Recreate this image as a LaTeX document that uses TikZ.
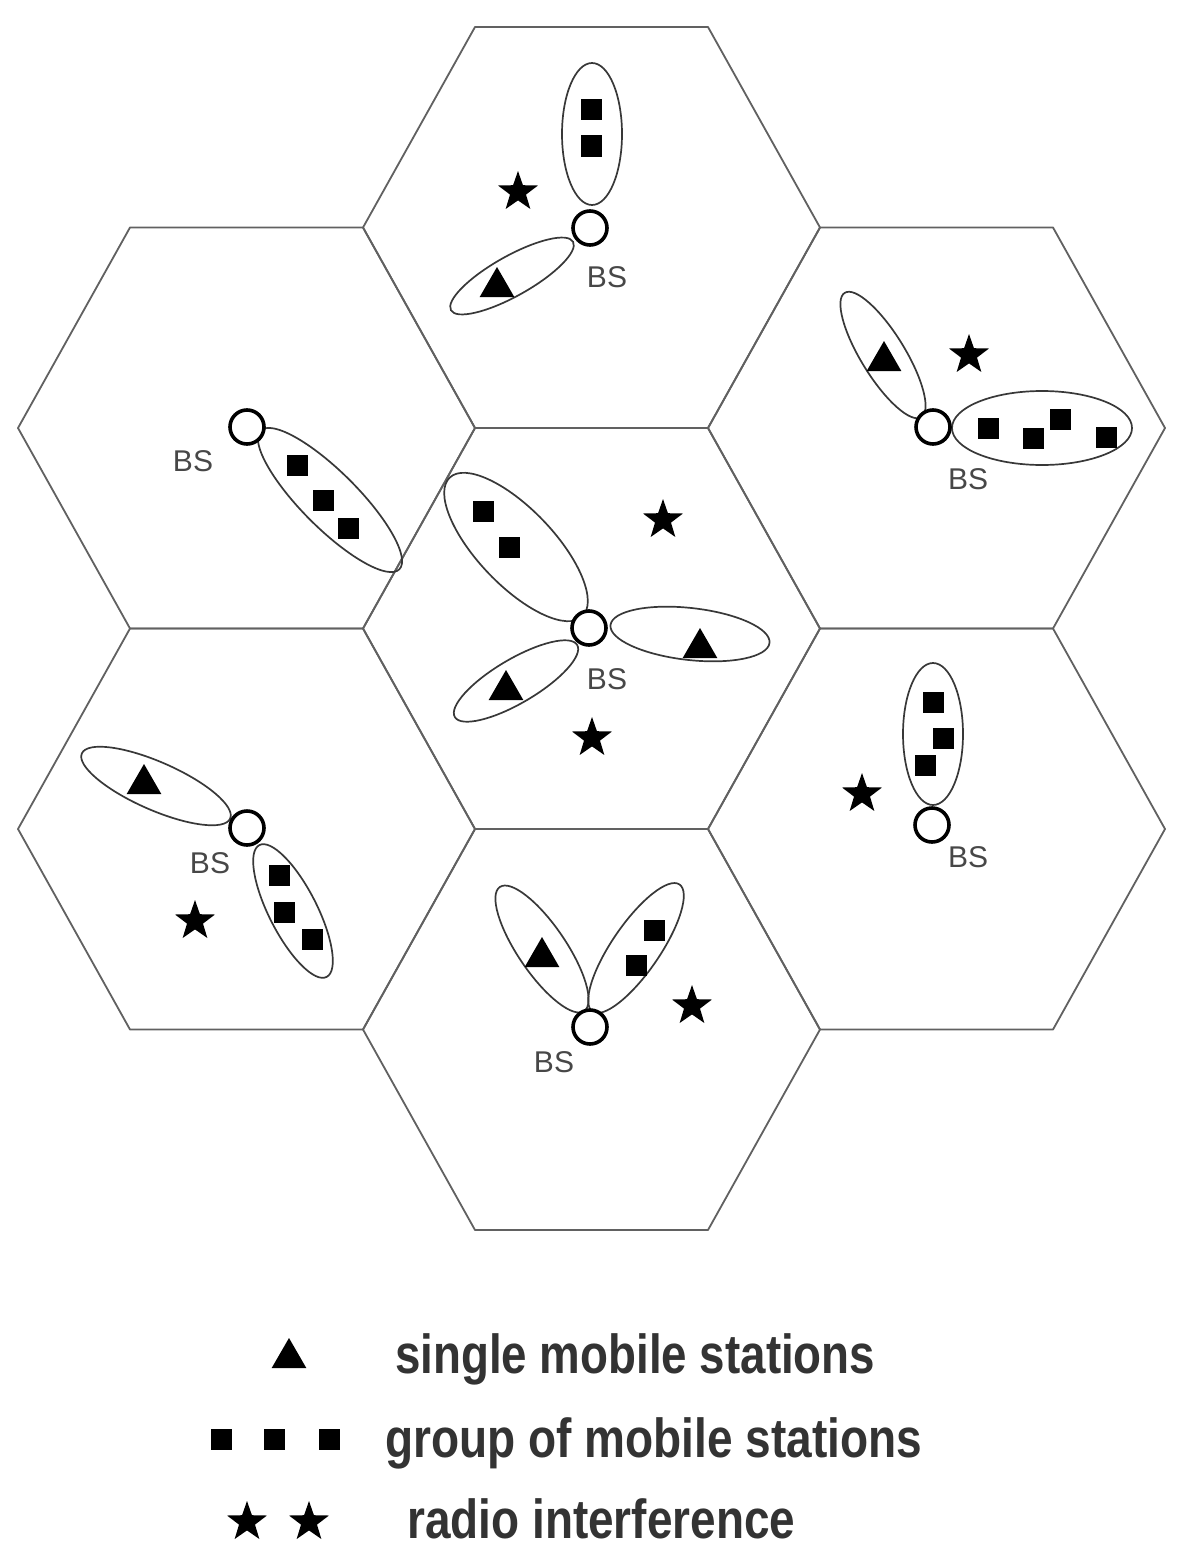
\documentclass[tikz,border=0pt]{standalone}
\usepackage{fontspec}
\setmainfont{Liberation Sans}
\usetikzlibrary{shapes.geometric}
\tikzset{
  hexline/.style={draw=black!62, line width=1.8pt, line join=round},
  lobe/.style={draw=black!78, line width=1.7pt},
  bsnode/.style={circle, draw=black, line width=3.6pt, minimum size=34pt, inner sep=0pt, fill=white},
  sqnode/.style={rectangle, fill=black, minimum size=21pt, inner sep=0pt},
  trinode/.style={regular polygon, regular polygon sides=3, fill=black, minimum size=40pt, inner sep=0pt},
  starnode/.style={star, star points=5, star point ratio=2.5, fill=black, minimum size=42pt, inner sep=0pt},
  bslabel/.style={text=black!72, font=\fontsize{30}{32}\selectfont, inner sep=0pt},
  legtext/.style={text=black!80, font=\bfseries\fontsize{55}{60}\selectfont, inner sep=0pt, anchor=base west},
}
\newcommand\hexcell[3]{%
  \draw[hexline] ({#1-228.5},{#2}) coordinate (#3-w) -- ({#1-116.5},{#2-200.5}) -- ({#1+116.5},{#2-200.5}) -- ({#1+228.5},{#2}) coordinate (#3-e) -- ({#1+116.5},{#2+200.5}) -- ({#1-116.5},{#2+200.5}) -- cycle;}
\newcommand\lobeat[5]{%
  \draw[lobe, shift={(#1,#2)}, rotate=#3] (0,0) ellipse [x radius=#4pt, y radius=#5pt];}
\begin{document}
\begin{tikzpicture}[x=1pt, y=-1pt]
\fill[white] (0,0) rectangle (1186,1568);
\useasboundingbox (0,0) rectangle (1186,1568);

% hexagonal cells
\hexcell{591.5}{227.5}{hT}
\hexcell{246.5}{428}{hUL}
\hexcell{936.5}{428}{hUR}
\hexcell{591.5}{628.5}{hC}
\hexcell{246.5}{829}{hLL}
\hexcell{936.5}{829}{hLR}
\hexcell{591.5}{1029.5}{hB}

% lobes (antenna beams)
\lobeat{592}{134}{90}{71}{30}
\lobeat{512}{276}{29.3}{70}{20}
\lobeat{883}{355}{-58.4}{73}{22}
\lobeat{1042}{428}{0}{90}{37}
\lobeat{330}{500}{-45}{98}{28}
\lobeat{516}{547}{-46.3}{96}{38}
\lobeat{690}{634}{-6.4}{80}{26}
\lobeat{516}{681}{30.5}{71}{22}
\lobeat{156}{786}{-23.7}{81}{24}
\lobeat{293}{911}{-63}{74}{24}
\lobeat{542}{949}{-55.8}{75}{24}
\lobeat{636}{948}{55.6}{77}{24}
\lobeat{933}{734}{90}{71}{30}

% base stations
\node[bsnode] (bsT)  at (590,228) {};
\node[bsnode] (bsUR) at (933,427) {};
\node[bsnode] (bsUL) at (247,427) {};
\node[bsnode] (bsC)  at (589,628) {};
\node[bsnode] (bsLL) at (247,828) {};
\node[bsnode] (bsB)  at (590,1027) {};
\node[bsnode] (bsLR) at (932,825) {};

\node[bslabel] (lT)  at (607,277) {BS};
\node[bslabel] (lUR) at (968,479) {BS};
\node[bslabel] (lUL) at (193,461) {BS};
\node[bslabel] (lC)  at (607,679) {BS};
\node[bslabel] (lLL) at (210,863) {BS};
\node[bslabel] (lB)  at (554,1062) {BS};
\node[bslabel] (lLR) at (968,857) {BS};

% groups of mobile stations
\node[sqnode] (q1)  at (591,110) {};
\node[sqnode] (q2)  at (591,146) {};
\node[sqnode] (q3)  at (988,428) {};
\node[sqnode] (q4)  at (1033,438) {};
\node[sqnode] (q5)  at (1060,419) {};
\node[sqnode] (q6)  at (1106,437) {};
\node[sqnode] (q7)  at (297,465) {};
\node[sqnode] (q8)  at (323,500) {};
\node[sqnode] (q9)  at (348,528) {};
\node[sqnode] (q10) at (483,511) {};
\node[sqnode] (q11) at (509,547) {};
\node[sqnode] (q12) at (279,875) {};
\node[sqnode] (q13) at (284,912) {};
\node[sqnode] (q14) at (312,939) {};
\node[sqnode] (q15) at (654,930) {};
\node[sqnode] (q16) at (636,965) {};
\node[sqnode] (q17) at (933,702) {};
\node[sqnode] (q18) at (943,738) {};
\node[sqnode] (q19) at (925,765) {};

% single mobile stations
\node[trinode] (t1) at (497,287) {};
\node[trinode] (t2) at (884,361) {};
\node[trinode] (t3) at (700,648) {};
\node[trinode] (t4) at (506,690) {};
\node[trinode] (t5) at (144,784) {};
\node[trinode] (t6) at (542,957) {};

% radio interference
\node[starnode] (s1) at (518,192) {};
\node[starnode] (s2) at (969,355) {};
\node[starnode] (s3) at (663,520) {};
\node[starnode] (s4) at (592,738) {};
\node[starnode] (s5) at (195,921) {};
\node[starnode] (s6) at (692,1006) {};
\node[starnode] (s7) at (862,794) {};

% legend
\node[trinode] (kt) at (289,1358) {};
\node[legtext] (k1) at (395,1373) {\resizebox{480pt}{\height}{single mobile stations}};
\node[sqnode] (kq1) at (221,1439) {};
\node[sqnode] (kq2) at (274,1439) {};
\node[sqnode] (kq3) at (329,1439) {};
\node[legtext] (k2) at (385,1457) {\resizebox{537pt}{\height}{group of mobile stations}};
\node[starnode] (ks1) at (247,1522) {};
\node[starnode] (ks2) at (309,1522) {};
\node[legtext] (k3) at (407,1538) {\resizebox{388pt}{\height}{radio interference}};
\end{tikzpicture}
\end{document}
